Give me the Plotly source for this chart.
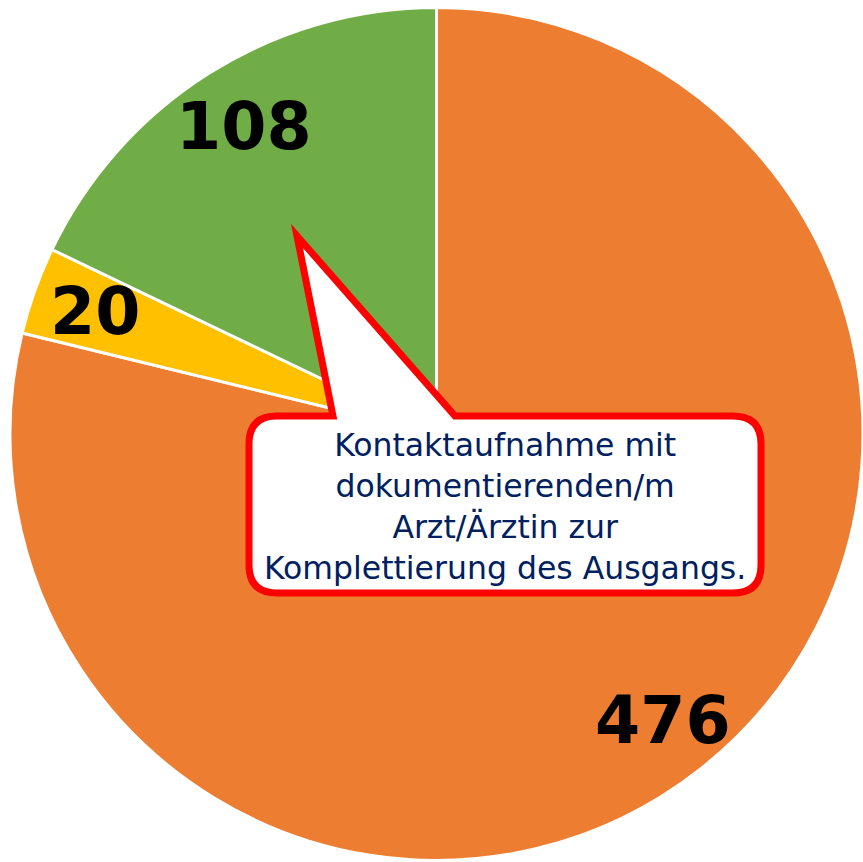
import math
import plotly.graph_objects as go

# Data
categories = ["A", "B", "C"]
values = [476, 20, 108]
colors = ["#ED7D31", "#FFC000", "#70AD47"]
callout_text = "Kontaktaufnahme mit<br>dokumentierenden/m<br>Arzt/Ärztin zur<br>Komplettierung des Ausgangs."

W, H = 863, 862
cx, cy, R = 438, 434, 428  # pixel layout of pie


def px(x):
    return x / W


def py(y):
    return 1 - y / H


fig = go.Figure()
fig.add_trace(go.Pie(
    labels=categories, values=values, sort=False, direction="clockwise", rotation=0,
    marker=dict(colors=colors, line=dict(color="white", width=3)),
    textinfo="none", hoverinfo="label+value", showlegend=False,
    domain=dict(x=[px(cx - R), 1], y=[0, py(cy - R)]),
))

# value labels at slice mid-angles
total = sum(values)
acc = 0
annotations = []
for v in values:
    mid = (acc + v / 2) / total * 2 * math.pi
    acc += v
    r = 0.85 * R
    x = cx + r * math.sin(mid)
    y = cy - r * math.cos(mid)
    annotations.append(dict(
        x=px(x), y=py(y), xref="paper", yref="paper", text=f"<b>{v}</b>",
        showarrow=False, xanchor="center", yanchor="middle",
        font=dict(family="DejaVu Sans", size=65, color="black"),
    ))

# callout
annotations.append(dict(
    x=px(505), y=py(506), xref="paper", yref="paper", text=callout_text,
    showarrow=False, xanchor="center", yanchor="middle", align="center",
    font=dict(family="DejaVu Sans", size=31.5, color="#002060"),
))

L, T, Rr, B, rad = 249, 416, 761, 593, 28
pts = [
    ("M", [(297, 236)]),
    ("L", [(333, T)]),
    ("L", [(L + rad, T)]),
    ("Q", [(L, T), (L, T + rad)]),
    ("L", [(L, B - rad)]),
    ("Q", [(L, B), (L + rad, B)]),
    ("L", [(Rr - rad, B)]),
    ("Q", [(Rr, B), (Rr, B - rad)]),
    ("L", [(Rr, T + rad)]),
    ("Q", [(Rr, T), (Rr - rad, T)]),
    ("L", [(455, T)]),
]
path = " ".join(cmd + " " + " ".join(f"{px(x):.5f},{py(y):.5f}" for x, y in p) for cmd, p in pts) + " Z"

fig.update_layout(
    width=W, height=H, margin=dict(l=0, r=0, t=0, b=0),
    paper_bgcolor="white", plot_bgcolor="white",
    annotations=annotations,
    shapes=[dict(type="path", path=path, xref="paper", yref="paper",
                 line=dict(color="#FF0000", width=7), fillcolor="white", layer="above")],
)

fig.write_html("out.html", config={"displayModeBar": False},
               post_script="document.body.style.margin='0';document.body.style.overflow='hidden';")
